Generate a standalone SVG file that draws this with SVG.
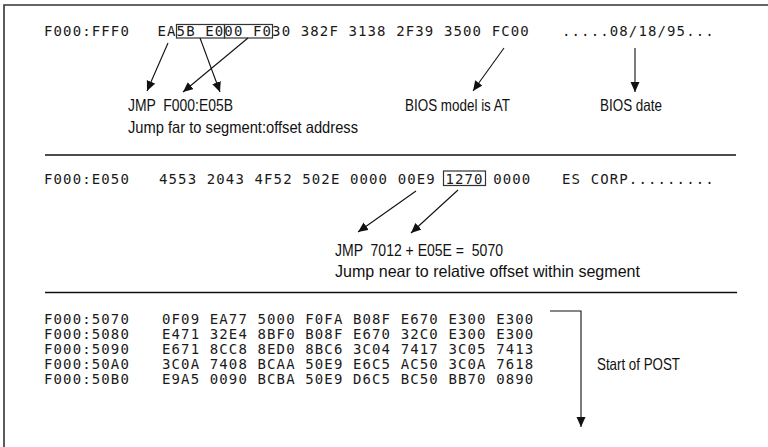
<svg xmlns="http://www.w3.org/2000/svg" width="768" height="447" viewBox="0 0 768 447">
<style>
.mono{font-family:"DejaVu Sans Mono","Liberation Mono",monospace;font-size:14px;letter-spacing:1.12px;fill:#1a1a1a;white-space:pre}
.lbl{font-family:"Liberation Sans","Noto Sans",sans-serif;font-size:16.5px;fill:#111;white-space:pre}
.rule{stroke:#111;stroke-width:1.3;fill:none}
.frame{stroke:#333;stroke-width:1.6;fill:none}
.box{stroke:#333;stroke-width:1.2;fill:none}
.arr{stroke:#111;stroke-width:1.1;fill:none;marker-end:url(#ah)}
</style>
<defs>
<marker id="ah" markerUnits="userSpaceOnUse" markerWidth="12" markerHeight="10" refX="10" refY="4.5" orient="auto">
<path d="M0,0 L10,4.5 L0,9 Z" fill="#111"/>
</marker>
</defs>
<rect width="768" height="447" fill="#fff"/>
<g id="frame">
<path class="frame" d="M4,447 L4,5 L768,5"/>
<line class="rule" x1="45" y1="155" x2="736" y2="155"/>
<line class="rule" x1="45" y1="292.5" x2="737" y2="292.5"/>
</g>
<g id="row1">
<text class="mono" x="44" y="36">F000:FFF0</text>
<text class="mono" x="157.5" y="36">EA5B E000 F030 382F 3138 2F39 3500 FC00</text>
<text class="mono" x="562" y="36">.....08/18/95...</text>
<rect class="box" x="176.5" y="24.5" width="48" height="13.5"/>
<rect class="box" x="224.5" y="24.5" width="48" height="13.5"/>
</g>
<g id="jmp-far">
<text class="lbl" x="128" y="111" textLength="105" lengthAdjust="spacingAndGlyphs">JMP  F000:E05B</text>
<text class="lbl" x="128" y="133" textLength="230" lengthAdjust="spacingAndGlyphs">Jump far to segment:offset address</text>
</g>
<g id="bios-model">
<text class="lbl" x="405" y="111" textLength="105" lengthAdjust="spacingAndGlyphs">BIOS model is AT</text>
</g>
<g id="bios-date">
<text class="lbl" x="600" y="111" textLength="62" lengthAdjust="spacingAndGlyphs">BIOS date</text>
</g>
<g id="row2">
<text class="mono" x="44" y="184">F000:E050</text>
<text class="mono" x="159" y="184">4553 2043 4F52 502E 0000 00E9 1270 0000</text>
<text class="mono" x="562" y="184">ES CORP.........</text>
<rect class="box" x="443.5" y="171" width="42" height="14.5"/>
</g>
<g id="jmp-near">
<text class="lbl" x="335" y="256" textLength="168" lengthAdjust="spacingAndGlyphs">JMP  7012 + E05E =  5070</text>
<text class="lbl" x="335" y="277" textLength="305" lengthAdjust="spacingAndGlyphs">Jump near to relative offset within segment</text>
</g>
<g id="row3">
<text class="mono" x="44" y="323.5">F000:5070</text>
<text class="mono" x="44" y="338.7">F000:5080</text>
<text class="mono" x="44" y="353.9">F000:5090</text>
<text class="mono" x="44" y="369.1">F000:50A0</text>
<text class="mono" x="44" y="384.3">F000:50B0</text>
<text class="mono" x="162" y="323.5">0F09 EA77 5000 F0FA B08F E670 E300 E300</text>
<text class="mono" x="162" y="338.7">E471 32E4 8BF0 B08F E670 32C0 E300 E300</text>
<text class="mono" x="162" y="353.9">E671 8CC8 8ED0 8BC6 3C04 7417 3C05 7413</text>
<text class="mono" x="162" y="369.1">3C0A 7408 BCAA 50E9 E6C5 AC50 3C0A 7618</text>
<text class="mono" x="162" y="384.3">E9A5 0090 BCBA 50E9 D6C5 BC50 BB70 0890</text>
</g>
<g id="post">
<text class="lbl" x="597" y="370" textLength="83" lengthAdjust="spacingAndGlyphs">Start of POST</text>
</g>
<g id="connectors">
<line class="arr" x1="168" y1="43" x2="147" y2="91"/>
<line class="arr" x1="200" y1="38" x2="220" y2="92"/>
<line class="arr" x1="248" y1="38" x2="183" y2="92"/>
<line class="arr" x1="504" y1="48" x2="473" y2="91"/>
<line class="arr" x1="635" y1="48" x2="635" y2="92"/>
<line class="arr" x1="416" y1="191" x2="358" y2="232"/>
<line class="arr" x1="458" y1="190" x2="411" y2="233"/>
<polyline class="arr" points="550,311 581,311 581,427"/>
</g>
</svg>
